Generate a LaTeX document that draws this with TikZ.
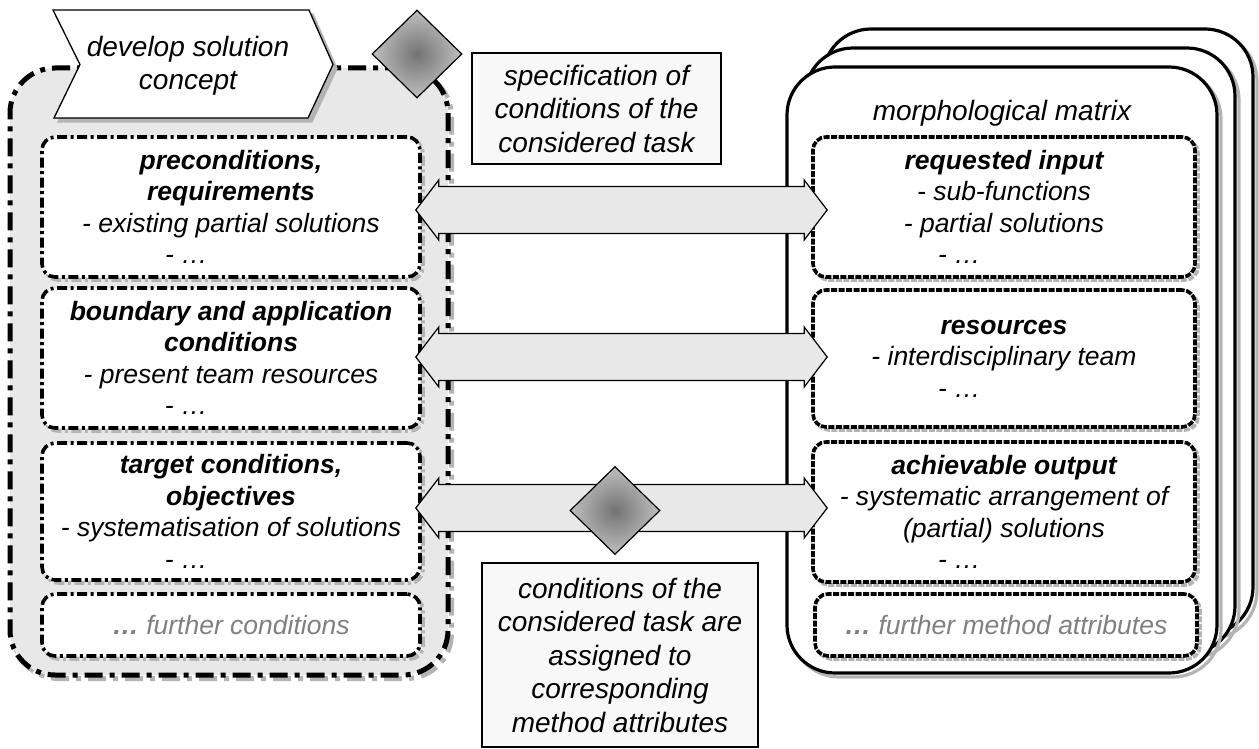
\documentclass[tikz,border=0pt]{standalone}
\usepackage{fontspec}
\setmainfont{Liberation Sans}
\usetikzlibrary{shapes.geometric,calc}
\definecolor{shgray}{RGB}{180,180,180}
\definecolor{lgray}{RGB}{232,232,232}
\definecolor{specfill}{RGB}{248,248,248}
\definecolor{txtgray}{RGB}{128,128,128}
\newcommand\bxfont{\fontsize{26.5}{31.5}\selectfont\itshape}
\newcommand\annfont{\fontsize{28}{33.5}\selectfont\itshape}
\newcommand\dblarrow[2]{%
  \draw[blockarrow] let \p1=(#1), \p2=(#2) in
   (\x1,\y1) -- (\x1+23pt,\y1+30pt) -- (\x1+23pt,\y1+23.5pt) -- (\x2-23pt,\y1+23.5pt)
   -- (\x2-23pt,\y1+30pt) -- (\x2,\y1) -- (\x2-23pt,\y1-30pt) -- (\x2-23pt,\y1-23.5pt)
   -- (\x1+23pt,\y1-23.5pt) -- (\x1+23pt,\y1-30pt) -- cycle;}
\tikzset{
  lcont/.style={draw, line width=5pt, dash pattern=on 18pt off 7pt on 5pt off 7pt,
    fill=lgray, rounded corners=45pt, minimum width=438pt, minimum height=607pt, inner sep=0pt,
    preaction={draw=shgray, fill=none, line width=5pt, dash pattern=on 18pt off 7pt on 5pt off 7pt,
      transform canvas={xshift=3.5pt,yshift=-3.5pt}}},
  card/.style={draw, line width=3.2pt, fill=white, rounded corners=48pt,
    minimum width=430pt, minimum height=606pt, inner sep=0pt,
    preaction={draw=shgray, fill=none, line width=3.2pt, transform canvas={xshift=4pt,yshift=-4pt}}},
  lbox/.style={draw, line width=3.6pt, dash pattern=on 10pt off 3.5pt on 3pt off 3.5pt,
    fill=white, rounded corners=13pt, minimum width=378pt, inner sep=0pt, align=center, font=\bxfont,
    preaction={draw=shgray, fill=none, line width=3.6pt, dash pattern=on 10pt off 3.5pt on 3pt off 3.5pt,
      transform canvas={xshift=3pt,yshift=-3pt}}},
  rbox/.style={draw, line width=3.6pt, dash pattern=on 6pt off 1.5pt,
    fill=white, rounded corners=13pt, minimum width=382pt, inner sep=0pt, align=center, font=\bxfont,
    preaction={draw=shgray, fill=none, line width=3.6pt, dash pattern=on 6pt off 1.5pt,
      transform canvas={xshift=3pt,yshift=-3pt}}},
  annbox/.style={draw, line width=1.2pt, fill=specfill, inner sep=0pt, align=center, font=\annfont},
  dia/.style={shape=diamond, draw, line width=1.2pt, minimum width=90pt, minimum height=88pt,
    inner sep=0pt, inner color=black!55, outer color=black!25},
  chev/.style={draw, line width=1.3pt, fill=white,
    preaction={draw=shgray, fill=shgray, line width=1.3pt, transform canvas={xshift=4pt,yshift=-4pt}}},
  blockarrow/.style={draw, line width=1.2pt, fill=lgray},
  plain/.style={inner sep=0pt, align=center, font=\annfont},
  graytxt/.style={text=txtgray}
}
\begin{document}
\begin{tikzpicture}[x=1pt,y=-1pt]
\useasboundingbox (0,0) rectangle (1259,749);

% right stack of cards
\node[card] (rcard3) at (1038,332) {};
\node[card] (rcard2) at (1020,351) {};
\node[card] (rcard1) at (1002,370) {};
\node[plain] (mm) at (1002,113) {morphological matrix};

% left container
\node[lcont] (lc) at (229,371.5) {};

% chevron
\draw[chev] (53,10) -- (309,10) -- (333,64.5) -- (308,118) -- (54,118) -- (80,64.5) -- cycle;
\node[plain] (dev) at (188,66) {develop solution\\concept};

% top diamond
\node[dia] (d1) at (417,54) {};

% specification box
\node[annbox, minimum width=249pt, minimum height=111pt] (spec) at (596.5,108.5)
  {specification of\\conditions of the\\considered task};

% left inner boxes
\node[lbox, minimum height=140pt] (lb1) at (231,207)
  {\textbf{preconditions,}\\\textbf{requirements}\\- existing partial solutions\\\makebox[132pt][l]{- \dots}};
\node[lbox, minimum height=140pt] (lb2) at (231,358)
  {\textbf{boundary and application}\\\textbf{conditions}\\- present team resources\\\makebox[132pt][l]{- \dots}};
\node[lbox, minimum height=137pt] (lb3) at (231,511.5)
  {\textbf{target conditions,}\\\textbf{objectives}\\- systematisation of solutions\\\makebox[132pt][l]{- \dots}};
\node[lbox, minimum height=62pt, graytxt] (lb4) at (231,625)
  {\textbf{\dots} further conditions};

% right inner boxes
\node[rbox, minimum height=140pt] (rb1) at (1004,207)
  {\textbf{requested input}\\- sub-functions\\- partial solutions\\\makebox[132pt][l]{- \dots}};
\node[rbox, minimum height=137pt] (rb2) at (1004,358.5)
  {\textbf{resources}\\- interdisciplinary team\\\makebox[132pt][l]{- \dots}};
\node[rbox, minimum height=140pt] (rb3) at (1004,512)
  {\textbf{achievable output}\\- systematic arrangement of\\(partial) solutions\\\makebox[132pt][l]{- \dots}};
\node[rbox, minimum height=62pt, graytxt] (rb4) at (1006,625)
  {\textbf{\dots} further method attributes};

% block arrows
\coordinate (a1l) at ($(lb1.east)+(-6,3)$);
\coordinate (a1r) at ($(rb1.west)+(16,3)$);
\coordinate (a2l) at ($(lb2.east)+(-6,-1)$);
\coordinate (a2r) at ($(rb2.west)+(16,-1)$);
\coordinate (a3l) at ($(lb3.east)+(-6,-3.5)$);
\coordinate (a3r) at ($(rb3.west)+(16,-3.5)$);
\dblarrow{a1l}{a1r}
\dblarrow{a2l}{a2r}
\dblarrow{a3l}{a3r}

% lower diamond and annotation
\node[dia] (d2) at (615,510.5) {};
\node[annbox, minimum width=276pt, minimum height=184pt] (assign) at (620,655)
  {conditions of the\\considered task are\\assigned to\\corresponding\\method attributes};
\end{tikzpicture}
\end{document}
